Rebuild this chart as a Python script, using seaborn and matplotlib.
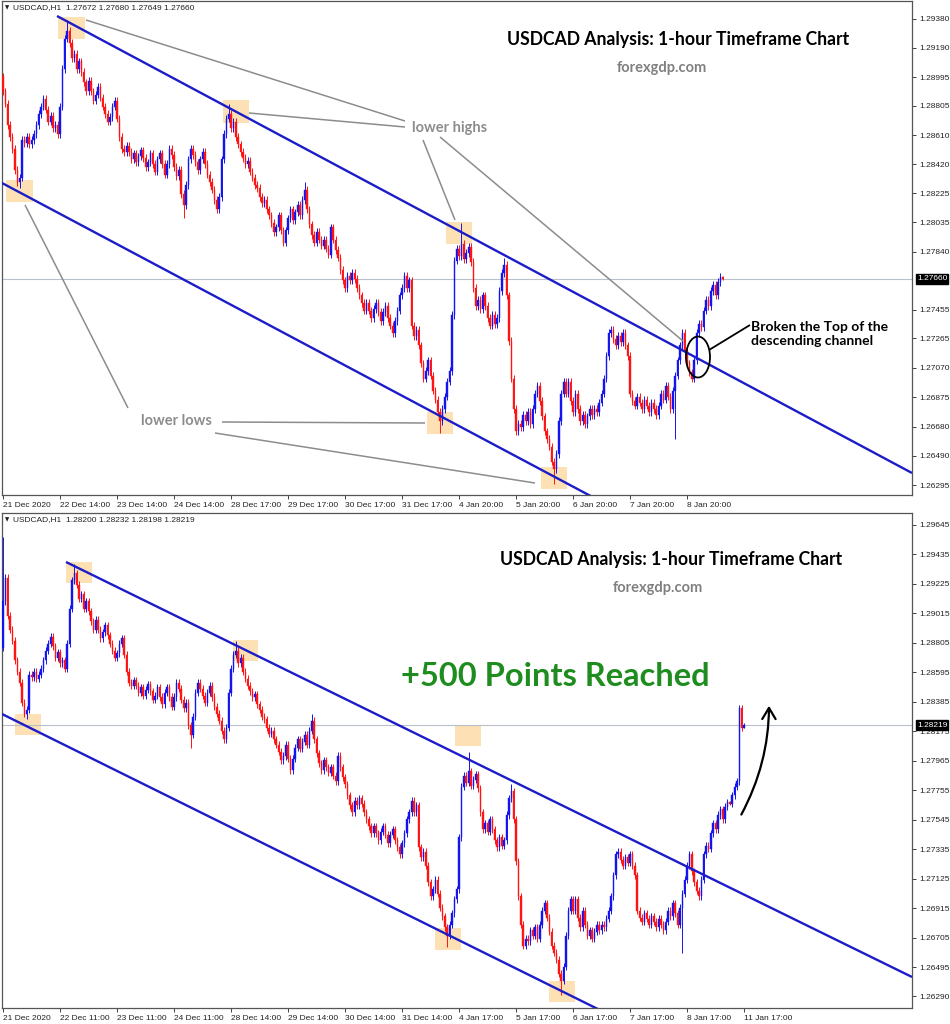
import numpy as np
import pandas as pd
import matplotlib
matplotlib.use("Agg")
import matplotlib.pyplot as plt
from matplotlib.patches import Rectangle, Ellipse, FancyArrowPatch
import seaborn as sns

# USDCAD H1 closes, bar 0 = 21 Dec 11:00 ... last bar = 11 Jan 17:00
closes = [
    1.2910, 1.2927, 1.2900,
    1.2890, 1.2882, 1.2868, 1.2860, 1.2852, 1.2838, 1.2830, 1.2833, 1.2858, 1.2856, 1.2860, 1.2855,
    1.2858, 1.2862, 1.2868, 1.2875, 1.2880, 1.2885, 1.2878, 1.2870, 1.2874, 1.2866, 1.2868, 1.2862,
    1.2880, 1.2905, 1.2925, 1.2930, 1.2922, 1.2912, 1.2915, 1.2905, 1.2910, 1.2903, 1.2896, 1.2890,
    1.2897, 1.2890, 1.2884, 1.2888, 1.2893, 1.2886, 1.2880, 1.2875, 1.2870, 1.2873, 1.2880, 1.2884,
    1.2872, 1.2860, 1.2852, 1.2850, 1.2854, 1.2850, 1.2845, 1.2849, 1.2843, 1.2847, 1.2851, 1.2846,
    1.2840, 1.2843, 1.2849, 1.2842, 1.2837, 1.2845, 1.2849, 1.2842, 1.2835, 1.2842, 1.2852, 1.2848,
    1.2840, 1.2834, 1.2838, 1.2822, 1.2815, 1.2828, 1.2845, 1.2852, 1.2848, 1.2843, 1.2838, 1.2845,
    1.2850, 1.2842, 1.2835, 1.2830, 1.2825, 1.2818, 1.2812, 1.2820, 1.2845, 1.2862, 1.2872, 1.2875,
    1.2866, 1.2870, 1.2860, 1.2855, 1.2850, 1.2846, 1.2842, 1.2844, 1.2837, 1.2833, 1.2828, 1.2826,
    1.2820, 1.2816, 1.2818, 1.2812, 1.2808, 1.2803, 1.2797, 1.2800, 1.2808, 1.2798, 1.2790, 1.2798,
    1.2806, 1.2812, 1.2805, 1.2810, 1.2815, 1.2808, 1.2818, 1.2825, 1.2812, 1.2802, 1.2795, 1.2790,
    1.2797, 1.2792, 1.2788, 1.2792, 1.2786, 1.2782, 1.2800, 1.2792, 1.2785, 1.2780, 1.2772, 1.2765,
    1.2760, 1.2768, 1.2765, 1.2770, 1.2766, 1.2760, 1.2755, 1.2750, 1.2745, 1.2750, 1.2745, 1.2740,
    1.2746, 1.2750, 1.2744, 1.2738, 1.2744, 1.2748, 1.2740, 1.2735, 1.2730, 1.2738, 1.2745, 1.2755,
    1.2760, 1.2768, 1.2760, 1.2765, 1.2735, 1.2728, 1.2732, 1.2722, 1.2710, 1.2700, 1.2705, 1.2712,
    1.2702, 1.2692, 1.2686, 1.2678, 1.2672, 1.2680, 1.2688, 1.2698, 1.2705, 1.2742, 1.2778, 1.2786,
    1.2781, 1.2789, 1.2779, 1.2783, 1.2787, 1.2777, 1.2760, 1.2748, 1.2752, 1.2746, 1.2755, 1.2748,
    1.2740, 1.2735, 1.2742, 1.2736, 1.2740, 1.2758, 1.2770, 1.2775, 1.2755, 1.2725, 1.2700, 1.2680,
    1.2665, 1.2670, 1.2668, 1.2676, 1.2672, 1.2678, 1.2670, 1.2680, 1.2690, 1.2695, 1.2685, 1.2675,
    1.2665, 1.2660, 1.2655, 1.2645, 1.2640, 1.2650, 1.2672, 1.2690, 1.2698, 1.2690, 1.2698, 1.2685,
    1.2678, 1.2690, 1.2680, 1.2672, 1.2676, 1.2670, 1.2675, 1.2680, 1.2676, 1.2680, 1.2678, 1.2684,
    1.2690, 1.2700, 1.2715, 1.2730, 1.2732, 1.2726, 1.2722, 1.2728, 1.2724, 1.2730, 1.2722, 1.2715,
    1.2690, 1.2685, 1.2682, 1.2688, 1.2684, 1.2680, 1.2686, 1.2682, 1.2678, 1.2684, 1.2680, 1.2676,
    1.2682, 1.2690, 1.2686, 1.2695, 1.2688, 1.2680, 1.2692, 1.2702, 1.2712, 1.2722, 1.2730, 1.2718,
    1.2710, 1.2704, 1.2700, 1.2712, 1.2730, 1.2736, 1.2734, 1.2745, 1.2752, 1.2748, 1.2758, 1.2762,
    1.2755, 1.2764, 1.27672, 1.27660,
    1.2772, 1.2778, 1.2782, 1.2834, 1.2820, 1.28219,
]
first_open = 1.2877

# wick extremes (bar index -> price)
high_marks = {0: 1.2956, 30: 1.2937, 98: 1.2882, 130: 1.2830, 196: 1.2803, 214: 1.2780,
              306: 1.27680, 310: 1.2836, 312: 1.28232}
low_marks = {10: 1.2826, 79: 1.2806, 187: 1.2664, 235: 1.2630, 286: 1.2660,
             306: 1.27649, 312: 1.28198}

top_start, top_end = 3, 307   # the upper screenshot shows bars 3..306

top_xlabels = ["21 Dec 2020", "22 Dec 14:00", "23 Dec 14:00", "24 Dec 14:00", "28 Dec 17:00",
               "29 Dec 17:00", "30 Dec 17:00", "31 Dec 17:00", "4 Jan 20:00", "5 Jan 20:00",
               "6 Jan 20:00", "7 Jan 20:00", "8 Jan 20:00"]
bot_xlabels = ["21 Dec 2020", "22 Dec 11:00", "23 Dec 11:00", "24 Dec 11:00", "28 Dec 14:00",
               "29 Dec 14:00", "30 Dec 14:00", "31 Dec 14:00", "4 Jan 17:00", "5 Jan 17:00",
               "6 Jan 17:00", "7 Jan 17:00", "8 Jan 17:00", "11 Jan 17:00"]
top_yticks = [1.29380, 1.29190, 1.28995, 1.28805, 1.28610, 1.28420, 1.28225, 1.28035, 1.27840,
              1.27455, 1.27265, 1.27070, 1.26875, 1.26680, 1.26490, 1.26295]
bot_yticks = [1.29645, 1.29435, 1.29225, 1.29015, 1.28805, 1.28595, 1.28385, 1.28175, 1.27965,
              1.27755, 1.27545, 1.27335, 1.27125, 1.26915, 1.26705, 1.26495, 1.26290]
top_quote = "1.27672 1.27680 1.27649 1.27660"
bot_quote = "1.28200 1.28232 1.28198 1.28219"
top_last, bot_last = 1.27660, 1.28219

# build OHLC
df = pd.DataFrame({"close": closes})
df["open"] = df["close"].shift(1).fillna(first_open)
wick = 0.00025
df["high"] = df[["open", "close"]].max(axis=1) + wick
df["low"] = df[["open", "close"]].min(axis=1) - wick
for k, v in high_marks.items():
    df.loc[k, "high"] = v
for k, v in low_marks.items():
    df.loc[k, "low"] = v

BLUE, RED = "#1414f0", "#ff1414"
CHAN = "#1c1cc8"
GRAY = "#8c8c8c"
BOXC = "#fde0b4"

sns.set_theme(style="white")
plt.rcParams["font.family"] = ["Liberation Sans", "DejaVu Sans"]
ANN = ["Lato", "DejaVu Sans"]

W, H = 950, 1024
fig = plt.figure(figsize=(W / 100, H / 100), dpi=100)
TOP_BOX = (2, 1, 912, 495)
BOT_BOX = (2, 513, 912, 1008)


def add_ax(box):
    l, t, r, b = box
    return fig.add_axes([l / W, 1 - b / H, (r - l) / W, (b - t) / H])


def af(box, x, y):
    l, t, r, b = box
    return ((x - l) / (r - l), (b - y) / (b - t))


def fp(x, y):
    return (x / W, 1 - y / H)


def draw_candles(ax, d):
    x = np.arange(len(d))
    up = (d["close"] >= d["open"]).to_numpy()
    cols = np.where(up, BLUE, RED)
    ax.vlines(x, d["low"], d["high"], colors=cols, lw=0.7, zorder=2)
    ax.bar(x, d["close"] - d["open"], bottom=d["open"], width=0.62, color=cols,
           edgecolor=cols, linewidth=0.3, zorder=3)


def style_ax(ax, ylim, yticks, xlabels, last, quote, box):
    ax.set_xlim(-0.42, 382.7)
    ax.set_ylim(*ylim)
    ax.yaxis.tick_right()
    ax.set_yticks(yticks)
    ax.set_yticklabels([f"{v:.5f}" for v in yticks])
    ax.set_xticks(np.arange(len(xlabels)) * 24)
    ax.set_xticklabels(xlabels)
    for lbl in ax.get_xticklabels():
        lbl.set_ha("left")
    ax.tick_params(axis="y", right=True, length=3, width=0.6, pad=2, labelsize=6, colors="#222222")
    ax.tick_params(axis="x", bottom=True, length=3, width=0.6, pad=2, labelsize=6, colors="#222222")
    for s in ax.spines.values():
        s.set_color("#555555")
        s.set_linewidth(0.9)
    ax.grid(False)
    ax.axhline(last, color="#b8c0cc", lw=0.8, zorder=1)
    ax.annotate(f"{last:.5f}", xy=(1, last), xycoords=ax.get_yaxis_transform(),
                xytext=(3.5, 0), textcoords="offset points", ha="left", va="center",
                fontsize=6, color="white",
                bbox=dict(boxstyle="square,pad=0.15", fc="black", ec="black"), annotation_clip=False)
    ax.text(*af(box, 5, box[1] + 7), "\u25BC", transform=ax.transAxes, fontsize=4,
            va="center", ha="left", family="DejaVu Sans", color="#222222")
    ax.text(*af(box, 13, box[1] + 7), "USDCAD,H1  " + quote, transform=ax.transAxes,
            fontsize=6, va="center", ha="left", color="#222222")


def seg(ax, box, p0, p1, **kw):
    a, b = af(box, *p0), af(box, *p1)
    ax.plot([a[0], b[0]], [a[1], b[1]], transform=ax.transAxes, solid_capstyle="butt", **kw)


def hbox(ax, box, x0, y0, x1, y1):
    a = af(box, x0, y1)
    b = af(box, x1, y0)
    ax.add_patch(Rectangle(a, b[0] - a[0], b[1] - a[1], transform=ax.transAxes,
                           facecolor=BOXC, edgecolor="none", zorder=0.5))


# ---------------- top panel ----------------
ax1 = add_ax(TOP_BOX)
top_df = df.iloc[top_start:top_end].reset_index(drop=True)
draw_candles(ax1, top_df)
style_ax(ax1, (1.26229, 1.29499), top_yticks, top_xlabels, top_last, top_quote, TOP_BOX)

for b in [(58, 17, 85, 39), (223, 100, 249, 123), (6, 180, 33, 202),
          (446, 222, 472, 244), (427, 412, 453, 434), (541, 467, 567, 489)]:
    hbox(ax1, TOP_BOX, *b)

seg(ax1, TOP_BOX, (57, 16), (912, 473), color=CHAN, lw=1.7, zorder=4)
seg(ax1, TOP_BOX, (2, 183), (600, 501), color=CHAN, lw=1.7, zorder=4)

for p0, p1 in [((86, 20), (405, 121)), ((249, 113), (405, 127)), ((423, 140), (455, 220)),
               ((440, 137), (683, 341)), ((25, 205), (128, 408)), ((222, 422), (425, 423)),
               ((215, 433), (535, 483))]:
    seg(ax1, TOP_BOX, p0, p1, color=GRAY, lw=1.1, zorder=4)

fig.text(*fp(450, 128), "lower highs", ha="center", va="center", fontsize=10.5,
         fontweight="bold", color=GRAY, family=ANN)
fig.text(*fp(176, 421), "lower lows", ha="center", va="center", fontsize=10.5,
         fontweight="bold", color=GRAY, family=ANN)

ax1.add_patch(Ellipse(af(TOP_BOX, 698, 357), 24 / 910, 41 / 494, transform=ax1.transAxes,
                      fill=False, edgecolor="black", lw=1.3, zorder=5))
seg(ax1, TOP_BOX, (709, 350), (750, 325), color="black", lw=1.3, zorder=5)
fig.text(*fp(751, 334), "Broken the Top of the\ndescending channel", ha="left", va="center",
         fontsize=10, fontweight="bold", color="black", family=ANN, linespacing=1.25)

fig.text(*fp(678, 40), "USDCAD Analysis: 1-hour Timeframe Chart", ha="center", va="center",
         fontsize=12.7, fontweight="bold", color="black", family=ANN)
fig.text(*fp(662, 68), "forexgdp.com", ha="center", va="center", fontsize=10.5,
         fontweight="bold", color="#808080", family=ANN)

# ---------------- bottom panel ----------------
ax2 = add_ax(BOT_BOX)
draw_candles(ax2, df)
style_ax(ax2, (1.26206, 1.29730), bot_yticks, bot_xlabels, bot_last, bot_quote, BOT_BOX)

for b in [(66, 562, 92, 583), (15, 714, 41, 735), (233, 640, 258, 661),
          (455, 725, 481, 746), (435, 928, 461, 950), (549, 981, 575, 1002)]:
    hbox(ax2, BOT_BOX, *b)

seg(ax2, BOT_BOX, (66, 562), (912, 977), color=CHAN, lw=1.7, zorder=4)
seg(ax2, BOT_BOX, (2, 714), (620, 1020), color=CHAN, lw=1.7, zorder=4)

fig.text(*fp(671, 560), "USDCAD Analysis: 1-hour Timeframe Chart", ha="center", va="center",
         fontsize=12.7, fontweight="bold", color="black", family=ANN)
fig.text(*fp(658, 588), "forexgdp.com", ha="center", va="center", fontsize=10.5,
         fontweight="bold", color="#808080", family=ANN)
fig.text(*fp(555, 677), "+500 Points Reached", ha="center", va="center", fontsize=23.5,
         fontweight="bold", color="#1e8c1e", family=ANN)

arrow = FancyArrowPatch(fp(740, 817), fp(769, 703), transform=fig.transFigure,
                        connectionstyle="arc3,rad=0.13",
                        arrowstyle="->,head_length=0.5,head_width=0.3",
                        mutation_scale=16, color="black", lw=1.6)
fig.patches.append(arrow)

fig.savefig("out.png", dpi=100)
